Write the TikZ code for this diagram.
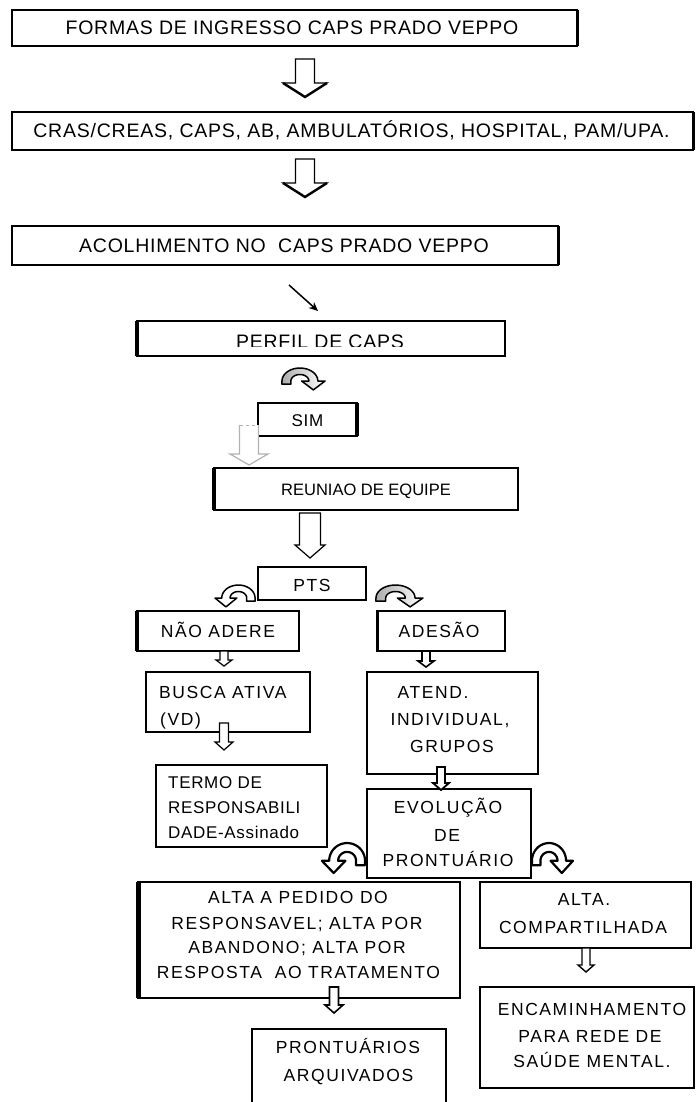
\documentclass[tikz,border=0pt]{standalone}
\usepackage{fontspec}
\setmainfont{Liberation Sans}
\newfontfamily\fa{Liberation Sans}[LetterSpace=4]
\newfontfamily\fb{Liberation Sans}[LetterSpace=9]
\usetikzlibrary{arrows.meta}
\tikzset{
  boxst/.style={draw, line width=1.6pt, rectangle, inner sep=0pt, outer sep=0pt},
  big/.style={font=\fa\fontsize{19.5}{24}\selectfont, anchor=base, inner sep=0pt},
  med/.style={font=\fb\fontsize{17.5}{24}\selectfont, anchor=base, inner sep=0pt},
  sml/.style={font=\fa\fontsize{17}{24}\selectfont, anchor=base, inner sep=0pt},
  reu/.style={font=\fontsize{16.5}{20}\selectfont, anchor=base, inner sep=0pt},
  blk/.style={draw, fill=white, line width=1.2pt, line join=miter},
  curv/.style={draw, line width=1.5pt, line join=round},
  thickside/.style={line width=4pt},
  pics/cwarrow/.style={code={
    \draw[curv,#1] (4,-4) -- plot[domain=180:0,samples=30] ({20+16*cos(\x)},{16*sin(\x)})
      -- (42.5,0) -- (32,-11) -- (21.5,0)
      -- plot[domain=0:180,samples=30] ({20+8*cos(\x)},{8*sin(\x)}) -- (12,-4) -- cycle;
  }},
  pics/cwarrow/.default={fill=white}
}
\newcommand\bx[6][]{\node[boxst,#1, minimum width={#5pt-#3pt}, minimum height={#6pt-#4pt}] (#2) at ({(#3+#5)/2},{(#4+#6)/2}) {};}
% opt, cx, top, tip, shaft half, head half, head length
\newcommand\blkarrow[7][]{\draw[blk,#1] ({#2-#5},#3) -- ({#2+#5},#3) -- ({#2+#5},{#4-#7}) -- ({#2+#6},{#4-#7}) -- (#2,#4) -- ({#2-#6},{#4-#7}) -- ({#2-#5},{#4-#7}) -- cycle;}
\begin{document}
\begin{tikzpicture}[x=1pt,y=-1pt]
\clip (0,0) rectangle (696,1102);
\fill[white] (0,0) rectangle (696,1102);

% boxes
\bx{b1}{12}{10}{577}{46}
\bx{b2}{12}{112}{693}{150}
\bx{b3}{12}{226}{558}{265}
\bx{b4}{137}{321}{505}{356}
\bx{b5}{258}{403}{357}{436}
\bx{b6}{214}{468}{518}{510}
\bx{b7}{258}{567}{366}{600}
\bx{b8}{137}{611}{299}{651}
\bx{b9}{377}{611}{505}{651}
\bx{b10}{146}{672}{310}{732}
\bx{b11}{156}{765}{327}{847}
\bx{b12}{367}{672}{538}{774}
\bx[line width=2.4pt]{b13}{367}{789}{531}{878}
\bx[line width=2.2pt]{b14}{138}{882}{460}{998}
\bx[line width=2.2pt]{b15}{480}{882}{691}{948}
\bx[line width=2.2pt]{b16}{480}{987}{694}{1088}
\bx{b17}{252}{1029}{446}{1130}

% thick sides
\draw[line width=3pt] (b1.north east) -- (b1.south east);
\draw[line width=3pt] (b2.north east) -- (b2.south east);
\draw[line width=3pt] (b3.north east) -- (b3.south east);
\draw[thickside] (b4.north west) -- (b4.south west);
\draw[line width=3.5pt] (b5.north east) -- (b5.south east);
\draw[thickside] (b6.north west) -- (b6.south west);
\draw[thickside] (b8.north west) -- (b8.south west);
\draw[line width=3pt] (b9.north west) -- (b9.south west);
\draw[line width=5pt] (b14.north west) -- (b14.south west);

% texts
\node[big] (t1) at (292,35) {FORMAS DE INGRESSO CAPS PRADO VEPPO};
\node[big] (t2) at (351.5,138) {CRAS/CREAS, CAPS, AB, AMBULATÓRIOS, HOSPITAL, PAM/UPA.};
\node[big] (t3) at (284,252) {ACOLHIMENTO NO\ \ CAPS PRADO VEPPO};
\begin{scope}
  \clip (137,321) rectangle (505,346);
  \node[big] (t4) at (320,348.5) {PERFIL DE CAPS};
\end{scope}
\node[sml] (t5) at (307.5,426) {SIM};
\node[reu] (t6) at (366,495) {REUNIAO DE EQUIPE};
\node[med] (t7) at (312,591.5) {PTS};
\node[med] (t8) at (218,637) {NÃO ADERE};
\node[med] (t9) at (439,637) {ADESÃO};
\node[med, anchor=base west] (t10a) at (159,698) {BUSCA ATIVA};
\node[med, anchor=base west] (t10b) at (160,725) {(VD)};
\node[sml, anchor=base west] (t11a) at (168,788) {TERMO DE};
\node[sml, anchor=base west] (t11b) at (168,813) {RESPONSABILI};
\node[sml, anchor=base west] (t11c) at (168,838) {DADE-Assinado};
\node[med] (t12a) at (433,698) {ATEND.};
\node[med] (t12b) at (450,725) {INDIVIDUAL,};
\node[med] (t12c) at (452,752) {GRUPOS};
\node[med] (t13a) at (448,813) {EVOLUÇÃO};
\node[med] (t13b) at (447,841) {DE};
\node[med] (t13c) at (448,866) {PRONTUÁRIO};
\node[med] (t14a) at (298,903) {ALTA A PEDIDO DO};
\node[med] (t14b) at (297,929) {RESPONSAVEL; ALTA POR};
\node[med] (t14c) at (297,953) {ABANDONO; ALTA POR};
\node[med] (t14d) at (298.5,978) {RESPOSTA\ \ AO TRATAMENTO};
\node[med] (t15a) at (584,905) {ALTA.};
\node[med] (t15b) at (583,933) {COMPARTILHADA};
\node[med] (t16a) at (592,1015) {ENCAMINHAMENTO};
\node[med] (t16b) at (590,1042) {PARA REDE DE};
\node[med] (t16c) at (592,1067) {SAÚDE MENTAL.};
\node[med] (t17a) at (348,1053) {PRONTUÁRIOS};
\node[med] (t17b) at (348.5,1081) {ARQUIVADOS};

% block arrows
\blkarrow{305}{59}{97}{9.5}{22}{14}
\draw[line width=2.4pt] (283,83) -- (305,97) -- (327,83);
\blkarrow{305}{159}{197}{9.5}{22}{14}
\draw[line width=2.4pt] (283,183) -- (305,197) -- (327,183);
\blkarrow{310}{513}{558}{10.5}{15}{13}
\blkarrow{224}{651}{666}{4}{8}{6}
\blkarrow[line width=1.6pt]{426}{651}{667}{4}{8}{6}
\blkarrow{224}{723}{750}{4.5}{9}{8}
\blkarrow[line width=1.8pt]{441}{767}{790}{4}{8}{7}
\blkarrow[line width=1.6pt]{334}{987}{1013}{4.5}{9}{8}
\blkarrow[line width=1.4pt]{586}{948}{972}{4}{8}{7}

% gray hollow arrow left of SIM
\draw[blk, draw=gray!60] (258.5,425) -- (258.5,454) -- (268,454) -- (249,465) -- (230,454) -- (239.5,454) -- (239.5,425);
\draw[gray!60, dashed, line width=1pt] (239.5,425) -- (258.5,425);

% diagonal arrow
\coordinate (d1) at (289,285);
\coordinate (d2) at (318,311);
\draw[line width=1.5pt, -{Stealth[length=9pt,width=8pt]}] (d1) -- (d2);

% curved arrows
\pic[xscale=1.12, yscale=-0.81] (c1) at (277.5,381) {cwarrow={left color=gray!65, right color=white}};
\pic[xscale=-1.04, yscale=-0.81] (c2) at (259.2,598) {cwarrow};
\pic[xscale=1.22, yscale=-0.81] (c3) at (371.1,598) {cwarrow={left color=gray!65, right color=white}};
\pic[xscale=-1.12, yscale=-1.11] (c4) at (369.5,860.8) {cwarrow={fill=white, line width=2.2pt}};
\pic[xscale=1.065, yscale=-1.11] (c5) at (527.7,860.8) {cwarrow={fill=white, line width=2.2pt}};
\end{tikzpicture}
\end{document}
